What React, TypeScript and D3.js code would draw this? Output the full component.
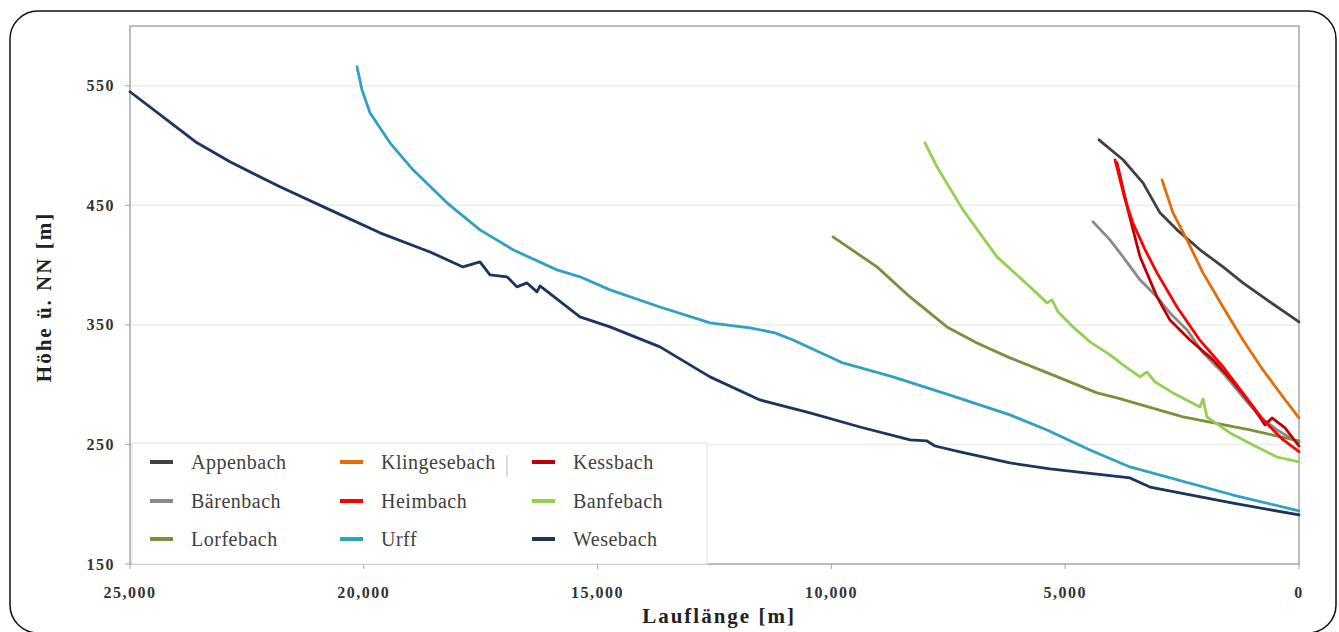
import React from 'react';
import * as d3 from 'd3';

// Lauflänge [m] / Höhe ü. NN [m]
const xTicks = [25000, 20000, 15000, 10000, 5000, 0];
const yTicks = [150, 250, 350, 450, 550];

const appenbach = [
  [4277, 504.8], [3764, 488.1], [3336, 468.8], [2973, 443.7], [2609, 429.5],
  [2117, 412.8], [1625, 398.5], [1198, 385.1], [684, 370.9], [0, 352.5],
];
const baerenbach = [
  [4406, 436.2], [4042, 421.1], [3764, 406.9], [3400, 387.7], [3037, 373.4],
  [2759, 360], [2395, 345.8], [2053, 326.6], [1625, 309.8], [1198, 289.7],
  [834, 273], [470, 262.1], [0, 251.3],
];
const lorfebach = [
  [9966, 423.6], [9025, 398.5], [8319, 373.4], [7528, 348.3], [6886, 334.9],
  [6181, 322.4], [5325, 309], [4320, 293.1], [3892, 288.9], [2481, 273],
  [1048, 262.1], [0, 252.9],
];
const klingesebach = [
  [2930, 471.3], [2695, 443.7], [2395, 421.1], [2053, 393.5], [1625, 365],
  [1198, 337.4], [770, 312.3], [342, 289.7], [0, 272.2],
];
const heimbach = [
  [3935, 488], [3721, 455], [3550, 435], [3293, 413], [3037, 393.5],
  [2609, 365], [2117, 337], [1625, 315], [1198, 293], [770, 270.5],
  [342, 254], [0, 244],
];
const kessbach = [
  [3892, 485.6], [3657, 446], [3400, 407], [3037, 373.4], [2759, 354],
  [2331, 337.4], [1839, 320.7], [1411, 302.3], [984, 281.4], [727, 266.3],
  [577, 272.2], [299, 263.8], [0, 248.7],
];
const banfebach = [
  [7998, 502.3], [7742, 482.2], [7186, 446.2], [6459, 406.9], [5753, 381.8],
  [5389, 368.4], [5282, 370.9], [5154, 360.9], [4833, 348.3], [4470, 335.8],
  [4042, 324.9], [3764, 316.5], [3400, 306.5], [3251, 310.7], [3080, 302.3],
  [2695, 293.1], [2117, 281.4], [2053, 288.1], [1968, 273], [1476, 259.6],
  [898, 247.9], [470, 239.5], [0, 235.4],
];
const urff = [
  [20146, 565.9], [20039, 546.6], [19868, 527.4], [19440, 502.3], [18948, 479.7],
  [18221, 452.1], [17515, 429.5], [16809, 412.8], [15868, 396], [15377, 390.2],
  [14735, 379.3], [13666, 365], [12596, 351.7], [11741, 347.5], [11206, 343.3],
  [10821, 337.4], [9752, 318.2], [8683, 306.5], [7613, 293.1], [6181, 274.7],
  [5389, 262.1], [4470, 245.4], [3614, 231.2], [1411, 207.7], [0, 194.4],
];
const wesebach = [
  [25000, 545], [24295, 524], [23567, 502.3], [22862, 486.4], [21792, 465.5],
  [20723, 446.2], [19654, 427], [18584, 411], [17879, 398.5], [17515, 402.7],
  [17301, 391.8], [16938, 390.2], [16724, 381.8], [16510, 385.1], [16296, 377.6],
  [16232, 382.6], [15377, 356.7], [14735, 348.3], [13666, 331.6], [12596, 306.5],
  [11527, 287.2], [10458, 276.4], [9388, 264.6], [8319, 253.8], [7956, 252.9],
  [7784, 248.7], [7250, 243.7], [6181, 234.5], [5325, 229.5], [3614, 222],
  [3187, 214.4], [1411, 201], [0, 191],
];

const series = [
  { name: 'Appenbach', values: appenbach },
  { name: 'Bärenbach', values: baerenbach },
  { name: 'Lorfebach', values: lorfebach },
  { name: 'Klingesebach', values: klingesebach },
  { name: 'Kessbach', values: kessbach },
  { name: 'Heimbach', values: heimbach },
  { name: 'Banfebach', values: banfebach },
  { name: 'Urff', values: urff },
  { name: 'Wesebach', values: wesebach },
];

const colors: Record<string, string> = {
  Appenbach: '#404040',
  'Bärenbach': '#8a8a8a',
  Lorfebach: '#76923c',
  Klingesebach: '#e46c0a',
  Kessbach: '#c00000',
  Heimbach: '#ff0000',
  Banfebach: '#92d050',
  Urff: '#31a0c2',
  Wesebach: '#1a3560',
};

// legend, row by row
const legendRows = [
  ['Appenbach', 'Klingesebach', 'Kessbach'],
  ['Bärenbach', 'Heimbach', 'Banfebach'],
  ['Lorfebach', 'Urff', 'Wesebach'],
];

const W = 1339;
const H = 632;
const plot = { left: 130, right: 1299, top: 26, bottom: 564 };
const font = '"Liberation Serif", "Times New Roman", serif';

export default function App() {
  const x = d3.scaleLinear().domain([25000, 0]).range([plot.left, plot.right]);
  const y = d3.scaleLinear().domain([150, 600]).range([plot.bottom, plot.top]);
  const line = d3
    .line<number[]>()
    .x(d => x(d[0]))
    .y(d => y(d[1]));
  const fmt = d3.format(',');

  const legendX = [150, 340, 532];
  const legendY = [462, 501, 539];

  return (
    <div style={{ position: 'absolute', left: 0, top: 0 }}>
      <svg width={W} height={H} style={{ display: 'block', background: '#fff' }}>
        {/* outer frame */}
        <rect x={10} y={11} width={1326} height={622} rx={28} ry={28}
          fill="#fff" stroke="#111" strokeWidth={1.5} />

        {/* gridlines */}
        {yTicks.filter(t => t > 150).map(t => (
          <line key={'g' + t} x1={plot.left} x2={plot.right} y1={y(t)} y2={y(t)}
            stroke="#ececec" strokeWidth={1.5} />
        ))}

        {/* plot frame */}
        <rect x={plot.left} y={plot.top} width={plot.right - plot.left}
          height={plot.bottom - plot.top} fill="none" stroke="#a6a6a6" strokeWidth={1.5} />

        {/* y ticks */}
        {yTicks.map(t => (
          <g key={'y' + t}>
            <line x1={plot.left - 5} x2={plot.left} y1={y(t)} y2={y(t)} stroke="#a6a6a6" />
            <text x={115} y={y(t)} dy="0.35em" textAnchor="end" fontFamily={font}
              fontWeight="bold" fontSize={16} letterSpacing={1.5} fill="#333">{t}</text>
          </g>
        ))}

        {/* x ticks */}
        {xTicks.map(t => (
          <g key={'x' + t}>
            <line x1={x(t)} x2={x(t)} y1={plot.bottom} y2={plot.bottom + 5} stroke="#a6a6a6" />
            <text x={x(t)} y={598} textAnchor="middle" fontFamily={font}
              fontWeight="bold" fontSize={16} letterSpacing={1.5} fill="#333">{fmt(t)}</text>
          </g>
        ))}

        {/* axis titles */}
        <text transform="translate(51,297) rotate(-90)" textAnchor="middle" fontFamily={font}
          fontWeight="bold" fontSize={21} letterSpacing={2} fill="#222">Höhe ü. NN [m]</text>
        <text x={719} y={623} textAnchor="middle" fontFamily={font}
          fontWeight="bold" fontSize={21} letterSpacing={2} fill="#222">Lauflänge [m]</text>

        {/* profiles */}
        {series.map(s => (
          <path key={s.name} d={line(s.values) || ''} fill="none" stroke={colors[s.name]}
            strokeWidth={2.8} strokeLinejoin="round" strokeLinecap="round" />
        ))}

        {/* legend */}
        <rect x={132} y={443} width={575} height={121} fill="#fff" stroke="#e2e2e2" />
        <line x1={507} x2={507} y1={455} y2={477} stroke="#bbb" />
        {legendRows.map((row, r) =>
          row.map((name, c) => (
            <g key={name}>
              <line x1={legendX[c]} x2={legendX[c] + 23} y1={legendY[r]} y2={legendY[r]}
                stroke={colors[name]} strokeWidth={4} />
              <text x={legendX[c] + 41} y={legendY[r]} dy="0.35em" fontFamily={font}
                fontSize={20} letterSpacing={0.5} fill="#404040">{name}</text>
            </g>
          ))
        )}
      </svg>
    </div>
  );
}
